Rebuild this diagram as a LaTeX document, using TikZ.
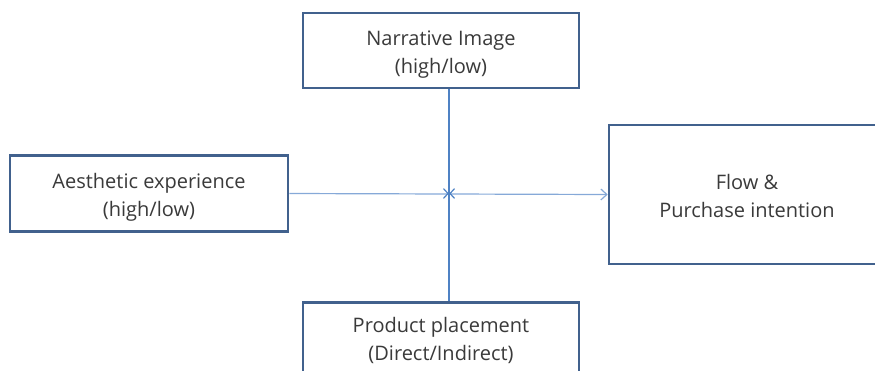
\documentclass[tikz,border=0pt]{standalone}
\usepackage{fontspec}
\setmainfont{Open Sans}
\usetikzlibrary{arrows.meta}
\definecolor{boxblue}{HTML}{41618D}
\definecolor{vline}{HTML}{4F82C4}
\definecolor{hline}{HTML}{86A9D8}
\definecolor{txt}{HTML}{3A3A3A}
\tikzset{
  lbl/.style={align=center, font=\fontsize{20}{28}\selectfont, text=txt, inner sep=0pt},
  box/.style={draw=boxblue, line width=2.6pt, fill=white},
  conn/.style={line width=1.2pt, -{Straight Barb[length=6pt,width=11pt]}},
}
\begin{document}
\begin{tikzpicture}[x=1pt,y=-1pt]
\useasboundingbox (0,0) rectangle (875,370);
\begin{scope}
\clip (0,0) rectangle (875,370);
\node[box, minimum width=276pt, minimum height=75pt] (narr) at (441,50.5) {};
\node[lbl] (narrtext) at (441,55) {Narrative Image\\(high/low)};
\node[box, minimum width=278pt, minimum height=76pt] (aest) at (149,193.5) {};
\node[lbl] (aesttext) at (149,197.5) {Aesthetic experience\\(high/low)};
\node[box, minimum width=280pt, minimum height=139pt] (flow) at (749,194.5) {};
\node[lbl] (flowtext) at (747,196) {Flow \&\\Purchase intention};
\node[box, minimum width=276pt, minimum height=90pt, anchor=north] (prod) at (441,301) {};
\node[lbl, anchor=north] (prodtext) at (441,317) {Product placement\\(Direct/Indirect)};
\coordinate (junc) at (449,193.5);
\draw[conn, draw=hline] (aest.east) -- (flow.west);
\draw[conn, draw=vline] (narr.south -| junc) -- ([yshift=-2pt]junc);
\draw[conn, draw=vline] (prod.north -| junc) -- ([yshift=2pt]junc);
\end{scope}
\end{tikzpicture}
\end{document}
